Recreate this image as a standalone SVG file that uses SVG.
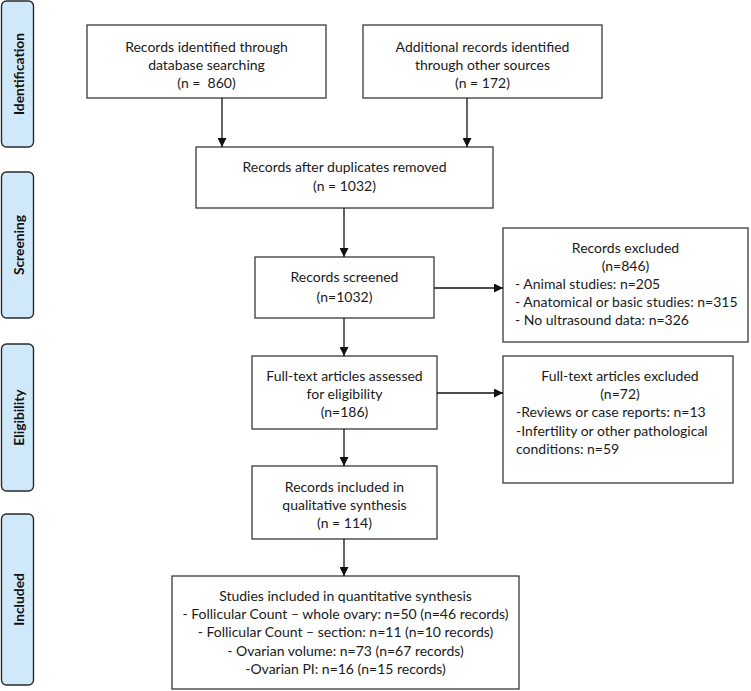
<svg xmlns="http://www.w3.org/2000/svg" width="751" height="691" viewBox="0 0 751 691">
<style>
  .phase rect { fill: #cfe9fb; stroke: #2b2b2b; stroke-width: 1.4; }
  .phase text { font-family: Lato, "Liberation Sans", sans-serif; font-weight: bold; font-size: 13.8px; fill: #111; text-anchor: middle; }
  .box rect { fill: #ffffff; stroke: #3a3a3a; stroke-width: 1.3; }
  .box text { font-family: Lato, "Liberation Sans", sans-serif; font-size: 14px; fill: #1a1a1a; white-space: pre; }
  .c { text-anchor: middle; }
  .l { text-anchor: start; }
  .conn line { stroke: #111; stroke-width: 1.3; marker-end: url(#ah); }
</style>
<defs>
  <marker id="ah" viewBox="0 0 10 10" refX="10" refY="5" markerWidth="9" markerHeight="9" markerUnits="userSpaceOnUse" orient="auto">
    <path d="M0,0 L10,5 L0,10 Z" fill="#111"/>
  </marker>
</defs>
<rect width="751" height="691" fill="#ffffff"/>

<g id="phase-identification" class="phase">
  <rect x="1.5" y="1" width="32" height="146" rx="5"/>
  <text transform="translate(24,74) rotate(-90)">Identification</text>
</g>
<g id="phase-screening" class="phase">
  <rect x="1.5" y="172" width="32" height="146" rx="5"/>
  <text transform="translate(24,245) rotate(-90)">Screening</text>
</g>
<g id="phase-eligibility" class="phase">
  <rect x="1.5" y="344" width="32" height="147" rx="5"/>
  <text transform="translate(24,417.5) rotate(-90)">Eligibility</text>
</g>
<g id="phase-included" class="phase">
  <rect x="1.5" y="514" width="32" height="171" rx="5"/>
  <text transform="translate(24,599.5) rotate(-90)">Included</text>
</g>

<g id="identified-db" class="box">
  <rect x="87" y="25" width="239" height="73"/>
  <text class="c" x="206.5" y="52">Records identified through</text>
  <text class="c" x="206.5" y="70">database searching</text>
  <text class="c" x="206.5" y="88">(n =  860)</text>
</g>
<g id="identified-other" class="box">
  <rect x="363" y="25" width="239" height="73"/>
  <text class="c" x="482.5" y="52">Additional records identified</text>
  <text class="c" x="482.5" y="70">through other sources</text>
  <text class="c" x="482.5" y="88">(n = 172)</text>
</g>
<g id="after-duplicates" class="box">
  <rect x="196" y="147" width="297" height="61"/>
  <text class="c" x="344.5" y="172">Records after duplicates removed</text>
  <text class="c" x="344.5" y="191">(n = 1032)</text>
</g>
<g id="screened" class="box">
  <rect x="255" y="257" width="179" height="61"/>
  <text class="c" x="344.5" y="282">Records screened</text>
  <text class="c" x="344.5" y="302">(n=1032)</text>
</g>
<g id="excluded" class="box">
  <rect x="503" y="228" width="245" height="114"/>
  <text class="c" x="625.5" y="253">Records excluded</text>
  <text class="c" x="625.5" y="271">(n=846)</text>
  <text class="l" x="515" y="289">- Animal studies: n=205</text>
  <text class="l" x="515" y="307">- Anatomical or basic studies: n=315</text>
  <text class="l" x="515" y="325">- No ultrasound data: n=326</text>
</g>
<g id="fulltext-assessed" class="box">
  <rect x="252" y="356" width="185" height="73"/>
  <text class="c" x="344.5" y="381">Full-text articles assessed</text>
  <text class="c" x="344.5" y="399">for eligibility</text>
  <text class="c" x="344.5" y="417">(n=186)</text>
</g>
<g id="fulltext-excluded" class="box">
  <rect x="503" y="356" width="230" height="127"/>
  <text class="c" x="620" y="381">Full-text articles excluded</text>
  <text class="c" x="620" y="399">(n=72)</text>
  <text class="l" x="516" y="417">-Reviews or case reports: n=13</text>
  <text class="l" x="516" y="436">-Infertility or other pathological</text>
  <text class="l" x="516" y="454">conditions: n=59</text>
</g>
<g id="qualitative" class="box">
  <rect x="252" y="466" width="185" height="73"/>
  <text class="c" x="344.5" y="492">Records included in</text>
  <text class="c" x="344.5" y="510">qualitative synthesis</text>
  <text class="c" x="344.5" y="528">(n = 114)</text>
</g>
<g id="quantitative" class="box">
  <rect x="172" y="576" width="347" height="113"/>
  <text class="c" x="345.5" y="601">Studies included in quantitative synthesis</text>
  <text class="c" x="345.5" y="619">- Follicular Count – whole ovary: n=50 (n=46 records)</text>
  <text class="c" x="345.5" y="637">- Follicular Count – section: n=11 (n=10 records)</text>
  <text class="c" x="345.5" y="656">- Ovarian volume: n=73 (n=67 records)</text>
  <text class="c" x="345.5" y="674">-Ovarian PI: n=16 (n=15 records)</text>
</g>

<g id="connectors" class="conn">
  <line x1="222" y1="98" x2="222" y2="147"/>
  <line x1="467" y1="98" x2="467" y2="147"/>
  <line x1="344" y1="208" x2="344" y2="257"/>
  <line x1="434" y1="288" x2="503" y2="288"/>
  <line x1="344" y1="318" x2="344" y2="356"/>
  <line x1="437" y1="393" x2="503" y2="393"/>
  <line x1="344" y1="429" x2="344" y2="466"/>
  <line x1="344" y1="539" x2="344" y2="576"/>
</g>
</svg>
